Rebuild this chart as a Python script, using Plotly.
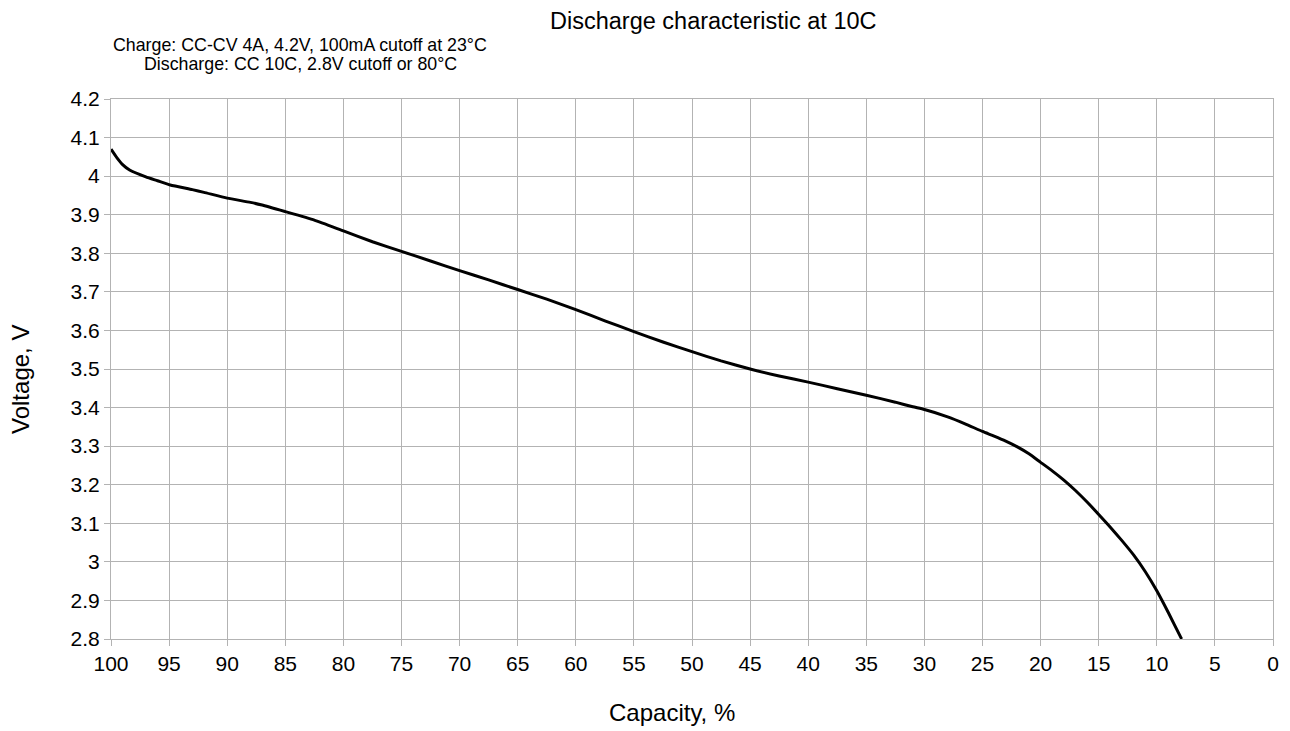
import plotly.graph_objects as go

capacity = [100, 99.5, 99, 98.4, 97, 96, 94.9, 93, 92, 90, 88, 87, 85, 82.5, 80, 77.5, 75, 72.5, 70, 67.5, 65, 62.5, 60, 57.5, 55, 52.5, 50, 47.5, 45, 42.5, 40, 37.5, 35, 32.5, 31, 30, 28, 26.5, 25, 24, 23, 22, 21, 20, 19, 18, 17, 16, 15, 14, 13, 12, 11, 10, 9, 8, 7.86]
voltage = [4.07, 4.048, 4.03, 4.016, 3.998, 3.988, 3.977, 3.965, 3.958, 3.943, 3.932, 3.925, 3.908, 3.886, 3.858, 3.83, 3.805, 3.78, 3.755, 3.731, 3.706, 3.681, 3.654, 3.625, 3.597, 3.57, 3.545, 3.521, 3.5, 3.482, 3.466, 3.449, 3.432, 3.414, 3.402, 3.395, 3.376, 3.358, 3.338, 3.326, 3.313, 3.298, 3.28, 3.258, 3.236, 3.212, 3.185, 3.155, 3.123, 3.09, 3.055, 3.018, 2.975, 2.925, 2.868, 2.808, 2.8]

x_ticks = list(range(100, -1, -5))
y_ticks = [2.8, 2.9, 3.0, 3.1, 3.2, 3.3, 3.4, 3.5, 3.6, 3.7, 3.8, 3.9, 4.0, 4.1, 4.2]
y_labels = ["2.8", "2.9", "3", "3.1", "3.2", "3.3", "3.4", "3.5", "3.6", "3.7", "3.8", "3.9", "4", "4.1", "4.2"]

FONT = "Liberation Sans, Arial, sans-serif"

# page plot area: left 111, right 1273, top 99, bottom 639 (body has 8px margin)
PL, PT, PW, PH = 111, 99, 1162, 540


def px(xp):
    return (xp - PL) / PW


def py(yp):
    return (PT + PH - yp) / PH


fig = go.Figure(go.Scatter(x=capacity, y=voltage, mode="lines",
                           line=dict(color="black", width=3, shape="spline", smoothing=0.5),
                           showlegend=False, hoverinfo="x+y"))

fig.update_layout(
    width=1282, height=723,
    margin=dict(l=103, r=17, t=91, b=92, autoexpand=False),
    paper_bgcolor="white", plot_bgcolor="white",
    font=dict(family=FONT, color="black", size=21),
    annotations=[
        dict(text="Discharge characteristic at 10C", xref="paper", yref="paper",
             x=px(713), y=py(21.5), xanchor="center", yanchor="middle",
             showarrow=False, font=dict(size=23.5)),
        dict(text="Charge: CC-CV 4A, 4.2V, 100mA cutoff at 23°C",
             xref="paper", yref="paper", x=px(300), y=py(45),
             xanchor="center", yanchor="middle", showarrow=False,
             font=dict(size=17.8)),
        dict(text="Discharge: CC 10C, 2.8V cutoff or 80°C",
             xref="paper", yref="paper", x=px(300), y=py(64),
             xanchor="center", yanchor="middle", showarrow=False,
             font=dict(size=17.8)),
        dict(text="Capacity, %", xref="paper", yref="paper",
             x=px(672), y=py(712), xanchor="center", yanchor="middle",
             showarrow=False, font=dict(size=24)),
        dict(text="Voltage, V", xref="paper", yref="paper",
             x=px(20), y=py(380), xanchor="center", yanchor="middle",
             textangle=-90, showarrow=False, font=dict(size=24)),
    ],
    xaxis=dict(range=[100, 0], tickvals=x_ticks, ticktext=[str(v) for v in x_ticks],
               showgrid=True, gridcolor="#b3b3b3", gridwidth=1,
               showline=True, linecolor="#b3b3b3", mirror=True,
               ticks="outside", ticklen=6, tickcolor="#b3b3b3",
               zeroline=False, tickfont=dict(size=21)),
    yaxis=dict(range=[2.8, 4.2], tickvals=y_ticks, ticktext=y_labels,
               showgrid=True, gridcolor="#b3b3b3", gridwidth=1,
               showline=True, linecolor="#b3b3b3", mirror=True,
               ticks="outside", ticklen=6, tickcolor="#b3b3b3",
               zeroline=False, tickfont=dict(size=21)),
)

fig.write_html("out.html")
